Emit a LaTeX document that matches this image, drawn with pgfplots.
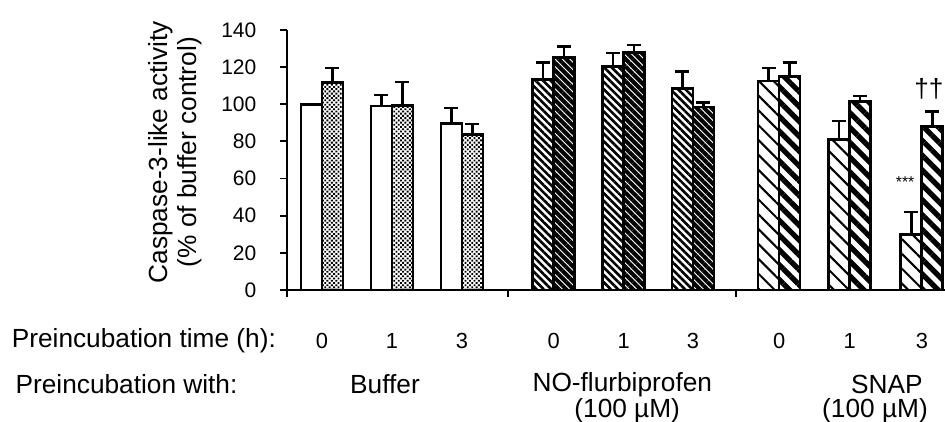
\documentclass[border=0pt]{standalone}
\usepackage{fontspec}
\setmainfont{Liberation Sans}
\usepackage{pgfplots}
\pgfplotsset{compat=1.18}
\usetikzlibrary{patterns.meta}

\newcommand{\lab}{\fontsize{15}{17}\selectfont}
\newcommand{\num}{\fontsize{12.5}{14}\selectfont}

\begin{document}
\begin{tikzpicture}
\begin{axis}[
  scale only axis, width=376pt, height=148.6pt,
  xmin=0, xmax=9.4, ymin=0, ymax=140,
  axis x line=bottom, axis y line=left,
  axis line style={-, line width=1.4pt},
  ytick={0,20,...,140}, xtick={0,3.16,6.41}, xticklabels={},
  tick align=outside, major tick length=4pt,
  tick style={line width=1.1pt, black},
  /pgf/number format/assume math mode=true,
  yticklabel style={font=\fontsize{12}{14}\selectfont, xshift=-10pt},
  ylabel={Caspase-3-like activity\\(\% of buffer control)},
  ylabel style={font=\lab, align=center, at={(axis description cs:-0.17,0.53)}, anchor=center},
  ybar, bar width=0.3,
  clip=false,
  every axis plot/.append style={draw=black, line width=1.6pt},
  error bars/y dir=plus, error bars/y explicit,
  error bars/error bar style={line width=1.3pt},
  error bars/error mark options={rotate=90, mark size=4pt, line width=1.4pt},
]
% Buffer
\addplot[fill=white, bar shift=-0.15] coordinates {
  (0.5,100) +- (0,0) (1.5,99) +- (0,6) (2.5,89.5) +- (0,8.5)};
\addplot[pattern={Dots[distance=1.8pt, radius=0.75pt, angle=45]}, bar shift=0.15] coordinates {
  (0.5,111.5) +- (0,8) (1.5,99.5) +- (0,12.5) (2.5,83.5) +- (0,6)};
% NO-flurbiprofen
\addplot[pattern={Lines[angle=-45, distance=3pt, line width=1.5pt]}, bar shift=-0.15] coordinates {
  (3.81,113.5) +- (0,9) (4.81,120.5) +- (0,7) (5.80,108.5) +- (0,9)};
\addplot[pattern={Lines[angle=-45, distance=3pt, line width=2.3pt]}, bar shift=0.15] coordinates {
  (3.81,125) +- (0,6) (4.81,128) +- (0,4) (5.80,98.5) +- (0,2.5)};
% SNAP
\addplot[pattern={Lines[angle=-45, distance=6pt, line width=1.2pt]}, bar shift=-0.15] coordinates {
  (7.03,112.5) +- (0,7) (8.04,81) +- (0,10) (9.07,30) +- (0,12)};
\addplot[pattern={Lines[angle=-45, distance=6pt, line width=3pt]}, bar shift=0.15] coordinates {
  (7.03,115) +- (0,7.5) (8.04,101.5) +- (0,3) (9.07,88) +- (0,8)};

\node[font=\fontsize{9}{10}\selectfont] at (axis cs:8.83,58) {***};
\node[font=\lab] at (axis cs:9.17,108) {††};

\coordinate (O) at (rel axis cs:0,0);
% row labels
\node[font=\lab, anchor=east] at ([yshift=-29pt]axis cs:-0.07,0) {Preincubation time (h):};
\node[font=\lab, anchor=east] at ([yshift=-54pt]axis cs:-0.62,0) {Preincubation with:};
\node[font=\num] at ([yshift=-29pt]axis cs:0.5,0) {0};
\node[font=\num] at ([yshift=-29pt]axis cs:1.5,0) {1};
\node[font=\num] at ([yshift=-29pt]axis cs:2.5,0) {3};
\node[font=\num] at ([yshift=-29pt]axis cs:3.81,0) {0};
\node[font=\num] at ([yshift=-29pt]axis cs:4.81,0) {1};
\node[font=\num] at ([yshift=-29pt]axis cs:5.80,0) {3};
\node[font=\num] at ([yshift=-29pt]axis cs:7.03,0) {0};
\node[font=\num] at ([yshift=-29pt]axis cs:8.04,0) {1};
\node[font=\num] at ([yshift=-29pt]axis cs:9.07,0) {3};
\node[font=\lab] at ([yshift=-54pt]axis cs:1.4,0) {Buffer};
\node[font=\lab] at ([yshift=-54pt]axis cs:4.79,0) {NO-flurbiprofen};
\node[font=\lab] at ([yshift=-69pt]axis cs:4.86,0) {(100 µM)};
\node[font=\lab] at ([yshift=-54pt]axis cs:8.57,0) {SNAP};
\node[font=\lab] at ([yshift=-69pt]axis cs:8.40,0) {(100 µM)};
\end{axis}
\pgfresetboundingbox
\path[use as bounding box] ([shift={(-164pt,-74.9pt)}]O) rectangle ([shift={(376pt,165.7pt)}]O);
\end{tikzpicture}
\end{document}
